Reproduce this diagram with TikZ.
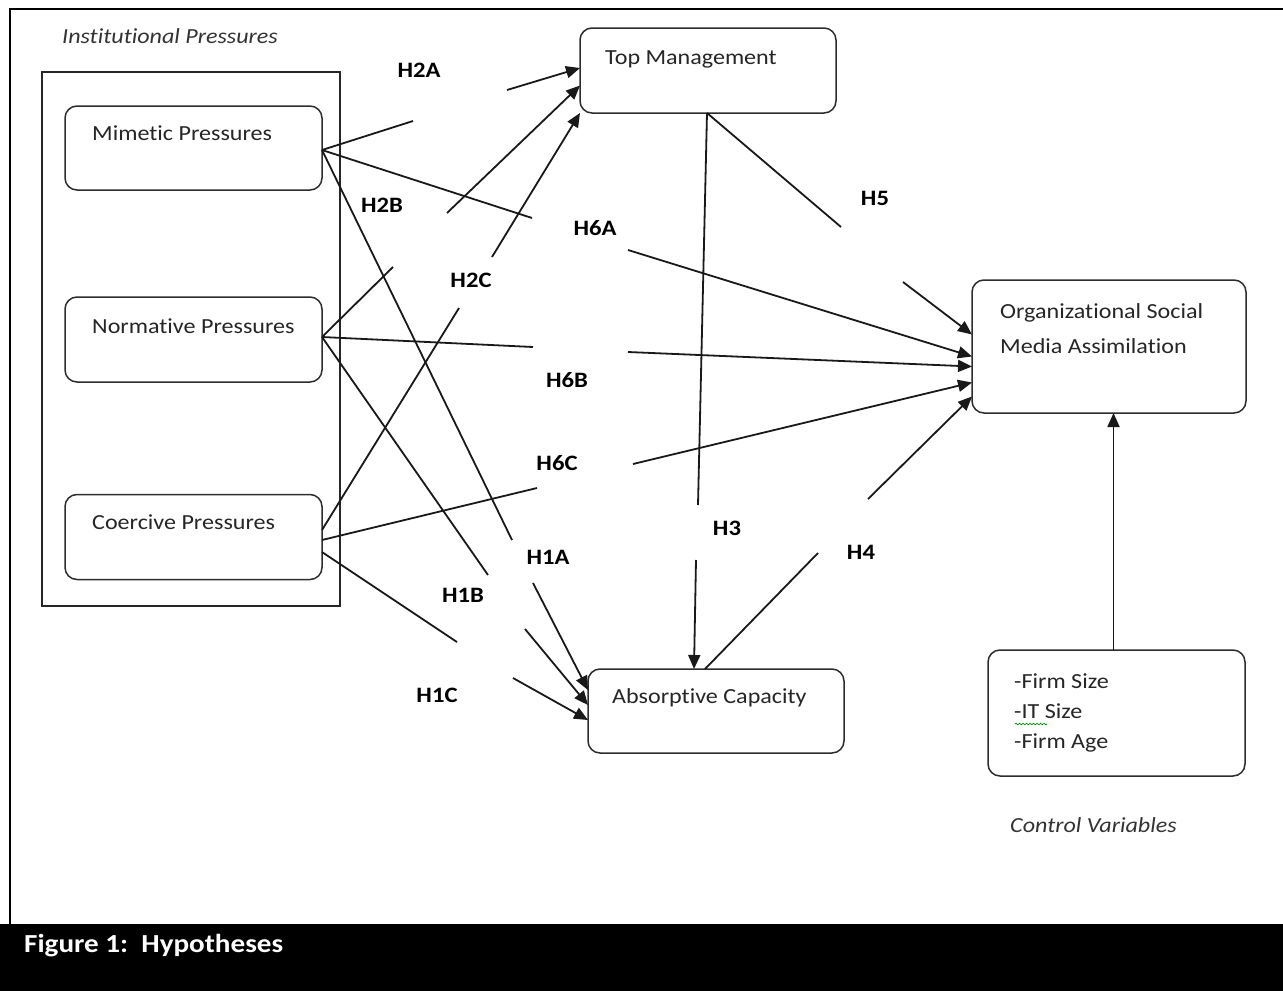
\documentclass[tikz,border=0pt]{standalone}
\usepackage{fontspec}
\setmainfont{Carlito}[FakeStretch=1.12, Ligatures=NoCommon]
\usetikzlibrary{arrows.meta,decorations.pathmorphing}
\begin{document}
\begin{tikzpicture}[x=1pt,y=-1pt,
  box/.style={draw=gray!35!black, line width=1.5pt, rounded corners=12pt, outer sep=0pt, inner sep=0pt},
  txt/.style={anchor=base west, inner sep=0pt, font=\fontsize{21.5}{26}\selectfont, text=black!85},
  itxt/.style={anchor=base west, inner sep=0pt, font=\fontsize{21.5}{26}\selectfont\itshape, text=black!80},
  lab/.style={inner sep=0pt, font=\fontsize{22}{26}\selectfont\bfseries},
  conn/.style={line width=1.8pt, draw=black!90},
  arr/.style={conn, -{Triangle[length=14pt,width=12pt]}}]
\useasboundingbox (0,0) rectangle (1283,991);
\fill[white] (0,0) rectangle (1283,991);
% frame and caption bar
\draw[line width=2.5pt] (10,924) -- (10,9) -- (1283,9);
\fill[black] (0,924) rectangle (1283,991);
\node[anchor=base west, inner sep=0pt, text=white, font=\fontsize{26}{30}\selectfont\bfseries] (cap) at (24,952) {Figure 1:\ \ Hypotheses};
% group frame
\node[draw=black!85, line width=1.5pt, minimum width=298pt, minimum height=534pt, outer sep=0pt, inner sep=0pt] (inst) at (191,339) {};
\node[itxt] (instt) at (62,43) {Institutional Pressures};
% boxes
\node[box, minimum width=257pt, minimum height=84pt] (mim) at (193.5,148) {};
\node[box, minimum width=257pt, minimum height=85pt] (nor) at (193.5,339.5) {};
\node[box, minimum width=257pt, minimum height=85pt] (coe) at (193.5,537) {};
\node[box, minimum width=256pt, minimum height=85pt] (top) at (708,70.5) {};
\node[box, minimum width=256pt, minimum height=84pt] (abs) at (716,711) {};
\node[box, minimum width=274pt, minimum height=133pt] (org) at (1109,346.5) {};
\node[box, minimum width=257pt, minimum height=126pt] (ctl) at (1116.5,713) {};
% box texts
\node[txt] (mimt) at (92,140) {Mimetic Pressures};
\node[txt] (nort) at (92,333) {Normative Pressures};
\node[txt] (coet) at (92,529) {Coercive Pressures};
\node[txt] (topt) at (605,64) {Top Management};
\node[txt] (abst) at (612,703) {Absorptive Capacity};
\node[txt] (orgt1) at (1000,318) {Organizational Social};
\node[txt] (orgt2) at (1000,353) {Media Assimilation};
\node[txt] (ctl1) at (1014,688) {-Firm Size};
\node[txt] (ctl2) at (1014,718) {-IT Size};
\node[txt] (ctl3) at (1014,748) {-Firm Age};
\draw[decorate, decoration={snake, amplitude=0.8pt, segment length=3.5pt}, draw=green!55!black, line width=0.7pt] (1015,724) -- (1047,724);
\node[itxt] (ctlv) at (1010,832) {Control Variables};
% labels
\node[lab] (h2a) at (419,70) {H2A};
\node[lab] (h2b) at (382,205) {H2B};
\node[lab] (h6a) at (595,228) {H6A};
\node[lab] (h2c) at (471,280) {H2C};
\node[lab] (h6b) at (567,380) {H6B};
\node[lab] (h6c) at (557,463) {H6C};
\node[lab] (h1a) at (548,557) {H1A};
\node[lab] (h1b) at (463,595) {H1B};
\node[lab] (h1c) at (437,695) {H1C};
\node[lab] (h3) at (727,528) {H3};
\node[lab] (h4) at (861,552) {H4};
\node[lab] (h5) at (875,198) {H5};
% gap coordinates
\coordinate (a2a) at (413,121); \coordinate (b2a) at (507,90);
\coordinate (a6a) at (532,218); \coordinate (b6a) at (628,250);
\coordinate (a1a) at (512,540); \coordinate (b1a) at (533,583);
\coordinate (a2b) at (393,267); \coordinate (b2b) at (447,213);
\coordinate (a1b) at (488,575); \coordinate (b1b) at (525,629);
\coordinate (a6b) at (533,347); \coordinate (b6b) at (628,352);
\coordinate (a2c) at (459,308); \coordinate (b2c) at (492,257);
\coordinate (a6c) at (537,488); \coordinate (b6c) at (633,464);
\coordinate (a1c) at (457,642); \coordinate (b1c) at (513,678);
\coordinate (a3) at (698,505); \coordinate (b3) at (696,560);
\coordinate (a5) at (841,227); \coordinate (b5) at (903,282);
\coordinate (a4) at (818,553); \coordinate (b4) at (868,499);
% connectors from Mimetic
\draw[conn] ([yshift=-2pt]mim.east) -- (a2a); \draw[arr] (b2a) -- ([yshift=2.5pt]top.west);
\draw[conn] ([yshift=-2pt]mim.east) -- (a6a); \draw[arr] (b6a) -- ([yshift=-10pt]org.west);
\draw[conn] ([yshift=-2pt]mim.east) -- (a1a); \draw[arr] (b1a) -- ([yshift=21pt]abs.west);
% connectors from Normative
\draw[conn] ([yshift=2.5pt]nor.east) -- (a2b); \draw[arr] (b2b) -- ([yshift=-15pt]top.west);
\draw[conn] ([yshift=2.5pt]nor.east) -- (a1b); \draw[arr] (b1b) -- ([yshift=6pt]abs.west);
\draw[conn] ([yshift=2.5pt]nor.east) -- (a6b); \draw[arr] (b6b) -- ([yshift=-20pt]org.west);
% connectors from Coercive
\draw[conn] ([yshift=7pt]coe.east) -- (a2c); \draw[arr] (b2c) -- (top.south west);
\draw[conn] ([yshift=-3pt]coe.east) -- (a6c); \draw[arr] (b6c) -- ([yshift=-36pt]org.west);
\draw[conn] ([yshift=-15pt]coe.east) -- (a1c); \draw[arr] (b1c) -- ([yshift=-9pt]abs.west);
% Top Management
\draw[conn] ([xshift=-1pt]top.south) -- (a3); \draw[arr] (b3) -- ([xshift=-22pt]abs.north);
\draw[conn] ([xshift=-1pt]top.south) -- (a5); \draw[arr] (b5) -- ([yshift=12pt]org.west);
% Absorptive
\draw[conn] ([xshift=-11pt]abs.north) -- (a4); \draw[arr] (b4) -- ([yshift=-50pt]org.west);
% Control
\draw[arr] ([xshift=-3pt]ctl.north) -- ([xshift=4.5pt]org.south);
\end{tikzpicture}
\end{document}
